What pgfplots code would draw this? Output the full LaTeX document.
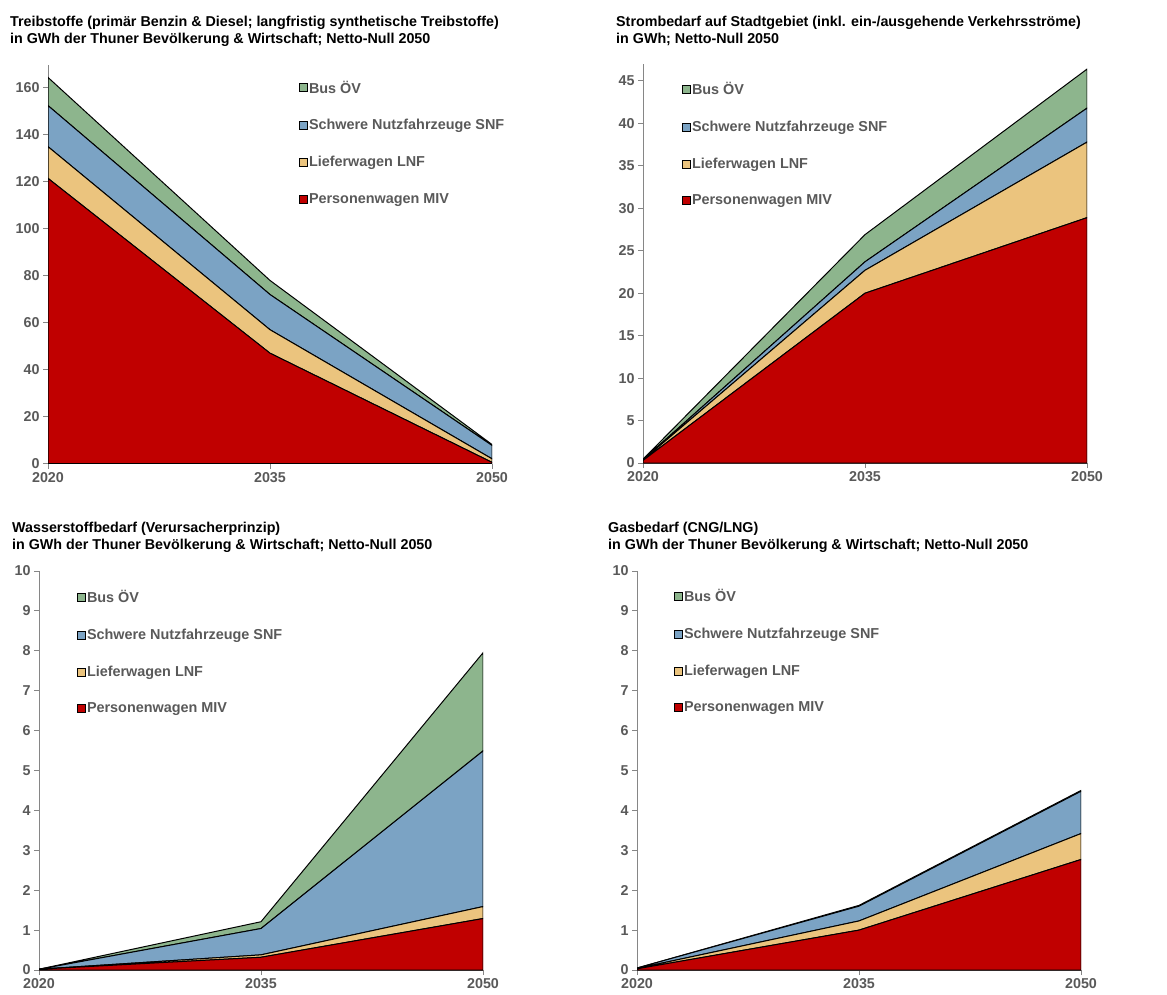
\documentclass[border=0pt]{standalone}
\usepackage{pgfplots}
\usepackage{pgfplotstable}
\pgfplotsset{compat=1.18}
\usepackage{fontspec}
\setmainfont{Liberation Sans}
\definecolor{cMIV}{HTML}{C00000}
\definecolor{cLNF}{HTML}{EBC47E}
\definecolor{cSNF}{HTML}{7BA3C4}
\definecolor{cBUS}{HTML}{8DB58D}
\definecolor{tickc}{HTML}{595959}
\definecolor{axl}{HTML}{868686}

\pgfplotstableread{
year MIV LNF SNF BUS
2020 121.5 13.5 17.5 12
2035 47 10 15 6
2050 0.5 1.5 5.7 0.4
}\dataTL
\pgfplotstableread{
year MIV LNF SNF BUS
2020 0.3 0.05 0.05 0.05
2035 20.0 2.7 1.0 3.2
2050 28.9 8.9 4.0 4.6
}\dataTR
\pgfplotstableread{
year MIV LNF SNF BUS
2020 0.02 0 0 0
2035 0.32 0.06 0.66 0.17
2050 1.29 0.30 3.90 2.46
}\dataBL
\pgfplotstableread{
year MIV LNF SNF BUS
2020 0.03 0.01 0.01 0
2035 1.0 0.23 0.37 0.02
2050 2.77 0.65 1.06 0.02
}\dataBR

\pgfplotsset{
  myax/.style={
    scale only axis, width=444pt, height=399pt,
    xmin=2020, xmax=2050, ymin=0,
    axis x line*=bottom, axis y line*=left,
    axis line style={draw=axl, line width=1pt, -},
    tick align=outside, major tick length=5pt,
    tick style={draw=axl, line width=1pt},
    xtick={2020,2035,2050}, xticklabels={2020,2035,2050},
    ticklabel style={font=\bfseries\fontsize{14.3}{16}\selectfont, text=tickc},
    /pgf/number format/assume math mode=true,
    stack plots=y,
    reverse legend,
    legend cell align=left,
    legend image code/.code={\draw[#1, draw=black, line width=0.8pt] (0pt,-4pt) rectangle (8pt,4pt);},
    legend style={draw=none, fill=none, at={(axis description cs:0,1)}, anchor=north west,
      font=\bfseries\fontsize{14.4}{16}\selectfont, text=tickc, row sep=23pt, inner sep=0pt,
      nodes={inner sep=1pt}},
    title style={at={(axis description cs:0,1)}, anchor=south west, align=left,
      font=\bfseries\fontsize{14.3}{17}\selectfont, inner sep=0pt, yshift=12pt},
  },
  pl/.style={fill=#1, draw=black, line width=1pt},
}

\newcommand{\stackfour}[1]{%
  \addplot[pl=cMIV] table[x=year,y=MIV]{#1} \closedcycle;
  \addlegendentry{Personenwagen MIV}
  \addplot[pl=cLNF] table[x=year,y=LNF]{#1} \closedcycle;
  \addlegendentry{Lieferwagen LNF}
  \addplot[pl=cSNF] table[x=year,y=SNF]{#1} \closedcycle;
  \addlegendentry{Schwere Nutzfahrzeuge SNF}
  \addplot[pl=cBUS] table[x=year,y=BUS]{#1} \closedcycle;
  \addlegendentry{Bus ÖV}
}

\begin{document}
\begin{tikzpicture}
\useasboundingbox (0pt,0pt) rectangle (1167pt,-994pt);

\begin{axis}[myax, at={(48pt,-64.5pt)}, anchor=north west,
  ymax=170, ytick={0,20,...,160},
  title={Treibstoffe (primär Benzin \& Diesel; langfristig synthetische Treibstoffe)\\in GWh der Thuner Bevölkerung \& Wirtschaft; Netto-Null 2050},
  title style={xshift=-38pt},
  legend style={xshift=251pt, yshift=-15pt}]
\stackfour{\dataTL}
\end{axis}

\begin{axis}[myax, at={(643pt,-64pt)}, anchor=north west,
  ymax=47, ytick={0,5,...,45},
  title={Strombedarf auf Stadtgebiet (inkl. ein-/ausgehende Verkehrsströme)\\in GWh; Netto-Null 2050},
  title style={xshift=-27pt},
  legend style={xshift=39pt, yshift=-17pt}]
\stackfour{\dataTR}
\end{axis}

\begin{axis}[myax, at={(39pt,-571pt)}, anchor=north west,
  ymax=10, ytick={0,1,...,10},
  title={Wasserstoffbedarf (Verursacherprinzip)\\in GWh der Thuner Bevölkerung \& Wirtschaft; Netto-Null 2050},
  title style={xshift=-27pt},
  legend style={xshift=38pt, yshift=-18pt}]
\stackfour{\dataBL}
\end{axis}

\begin{axis}[myax, at={(637pt,-571pt)}, anchor=north west,
  ymax=10, ytick={0,1,...,10},
  title={Gasbedarf (CNG/LNG)\\in GWh der Thuner Bevölkerung \& Wirtschaft; Netto-Null 2050},
  title style={xshift=-29pt},
  legend style={xshift=37pt, yshift=-17pt}]
\stackfour{\dataBR}
\end{axis}
\end{tikzpicture}
\end{document}
